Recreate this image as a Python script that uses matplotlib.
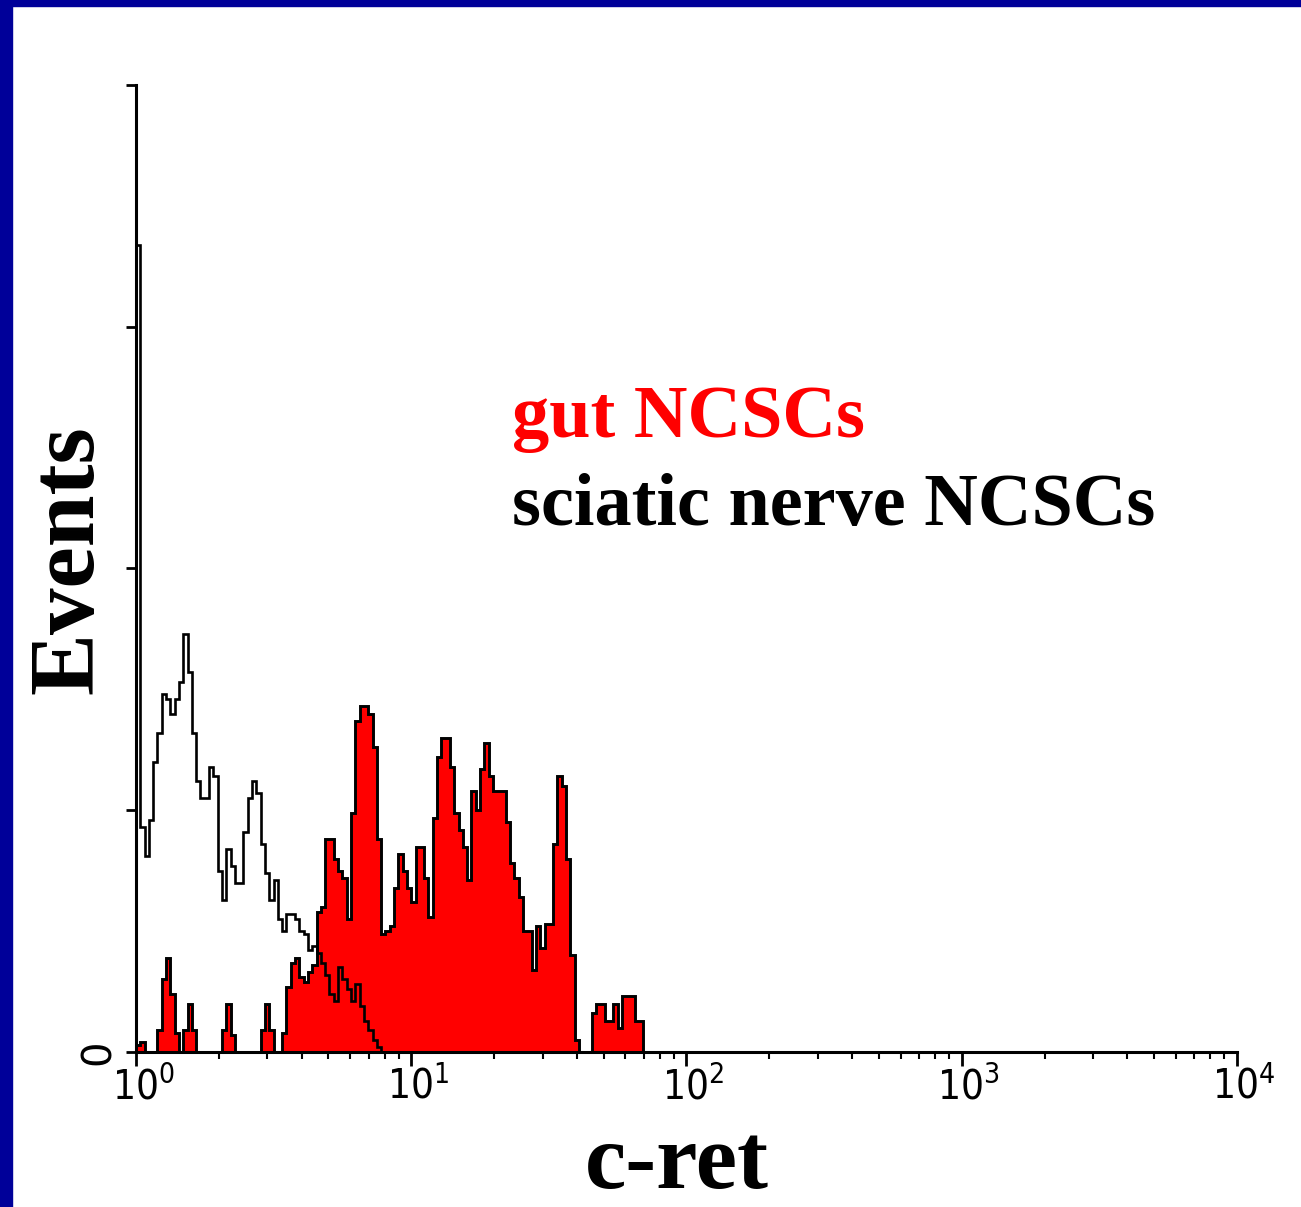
import numpy as np
import matplotlib.pyplot as plt
import matplotlib.transforms as mtransforms
from matplotlib.patches import Rectangle

# events per channel (256 log channels over 4 decades)
sciatic = [334, 93, 81, 96, 120, 132, 148, 146, 140, 146,
           153, 173, 157, 132, 112, 105, 105, 118, 114, 75,
           63, 84, 77, 70, 70, 91, 105, 112, 107, 86,
           74, 63, 71, 55, 50, 57, 57, 55, 50, 49,
           42, 44, 41, 37, 32, 24, 21, 35, 30, 26,
           21, 28, 19, 13, 9, 5, 2, 0]
gut = [3, 4, 0, 0, 0, 9, 30, 39, 24, 8,
       0, 9, 20, 9, 0, 0, 0, 0, 0, 0,
       9, 20, 7, 0, 0, 0, 0, 0, 0, 9,
       20, 9, 0, 0, 8, 27, 37, 39, 31, 29,
       33, 36, 58, 60, 88, 88, 80, 75, 72, 55,
       99, 137, 143, 143, 140, 126, 88, 49, 50, 52,
       68, 82, 75, 68, 62, 85, 85, 72, 56, 97,
       122, 130, 130, 118, 99, 92, 85, 71, 108, 100,
       117, 128, 114, 108, 108, 108, 95, 78, 72, 64,
       50, 50, 34, 52, 43, 53, 53, 86, 114, 110,
       80, 40, 5, 0, 0, 0, 16, 20, 20, 13,
       13, 20, 10, 23, 23, 23, 13, 13, 0]

n_channels = 256
decades = 4
xticks = [1, 10, 100, 1000, 10000]
xticklabels = ['$\\mathregular{10^{0}}$', '$\\mathregular{10^{1}}$', '$\\mathregular{10^{2}}$',
               '$\\mathregular{10^{3}}$', '$\\mathregular{10^{4}}$']
yticks = [0, 100, 200, 300, 400]
yticklabels = ['0', '', '', '', '']

fig = plt.figure(figsize=(13.01, 12.07), dpi=100)
ax = fig.add_axes([0.1045, 0.1284, 0.8463, 0.8012])

edges_gut = 10 ** (np.arange(len(gut) + 1) * decades / n_channels)
edges_sci = 10 ** (np.arange(len(sciatic) + 1) * decades / n_channels)
ax.stairs(gut, edges_gut, fill=True, facecolor='#ff0000', edgecolor='black', linewidth=2.1)
ax.stairs(sciatic, edges_sci, color='black', linewidth=1.9)

ax.set_xscale('log')
ax.set_xlim(1, 1e4)
ax.set_ylim(0, 400)
for s in ['top', 'right']:
    ax.spines[s].set_visible(False)
for s in ['left', 'bottom']:
    ax.spines[s].set_linewidth(2.2)

ax.set_xticks(xticks)
ax.set_xticklabels(xticklabels, fontsize=29, family='DejaVu Sans', fontstretch='condensed')
ax.set_yticks(yticks)
ax.set_yticklabels(yticklabels, fontsize=29, family='DejaVu Sans', rotation=90, va='center')
ax.tick_params(axis='x', which='major', direction='out', length=10, width=2, pad=1)
ax.tick_params(axis='x', which='minor', direction='out', length=5, width=1.5)
ax.tick_params(axis='y', which='major', direction='out', length=7, width=2, pad=5)

off = mtransforms.ScaledTranslation(7 / 100, 0, fig.dpi_scale_trans)
for lab in ax.get_xticklabels():
    lab.set_transform(lab.get_transform() + off)

fig.text(0.0538, 0.536, 'Events', rotation=90, ha='center', va='center',
         family='Liberation Serif', weight='bold', fontsize=67)
fig.text(0.520, 0.0157, 'c-ret', ha='center', va='baseline',
         family='Liberation Serif', weight='bold', fontsize=67)
fig.text(0.3935, 0.638, 'gut NCSCs', color='#ff0000', ha='left', va='baseline',
         family='Liberation Serif', weight='bold', fontsize=53.5)
fig.text(0.3935, 0.565, 'sciatic nerve NCSCs', color='black', ha='left', va='baseline',
         family='Liberation Serif', weight='bold', fontsize=53.5)

# dark blue slide border on top and left
fig.patches.append(Rectangle((0, 1 - 6 / 1207), 1, 6 / 1207, transform=fig.transFigure,
                             color='#000099', zorder=10))
fig.patches.append(Rectangle((0, 0), 12 / 1301, 1, transform=fig.transFigure,
                             color='#000099', zorder=10))

fig.savefig('out.png', dpi=100)
